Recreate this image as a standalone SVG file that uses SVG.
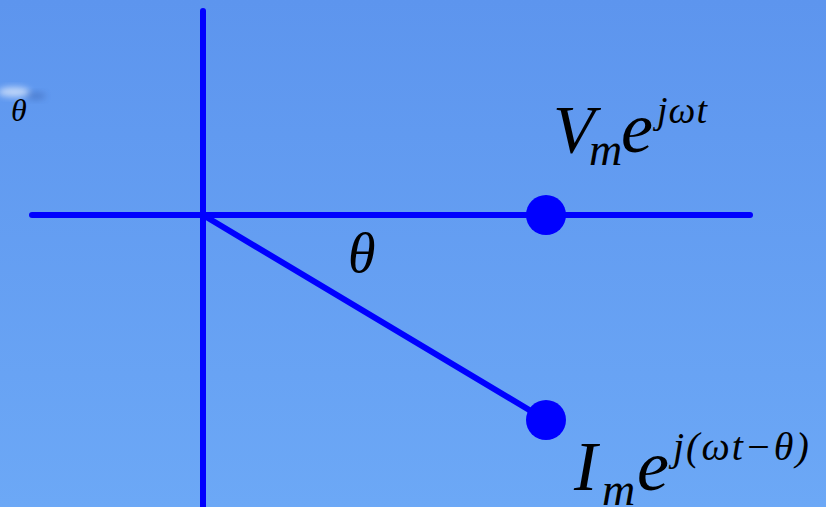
<svg xmlns="http://www.w3.org/2000/svg" width="826" height="507" viewBox="0 0 826 507">
<defs>
<linearGradient id="bg" x1="0" y1="0" x2="0" y2="1">
<stop offset="0" stop-color="#5D95EE"/>
<stop offset="1" stop-color="#6CA8F6"/>
</linearGradient>
<filter id="blur" x="-50%" y="-50%" width="200%" height="200%"><feGaussianBlur stdDeviation="3"/></filter>
</defs>
<style>
.ax{stroke:#0000FF;stroke-width:6;stroke-linecap:round;fill:none}
.dot{fill:#0000FF}
.m{font-family:"Liberation Serif","Times New Roman",serif;font-style:italic;fill:#000}
</style>
<rect width="826" height="507" fill="url(#bg)"/>
<ellipse cx="14" cy="92" rx="16" ry="5" fill="#ffffff" opacity="0.6" filter="url(#blur)"/>
<ellipse cx="36" cy="96" rx="10" ry="4" fill="#2a4a90" opacity="0.3" filter="url(#blur)"/>
<g id="connectors">
<line class="ax" x1="203" y1="11" x2="203" y2="510"/>
<line class="ax" x1="32" y1="215" x2="750" y2="215"/>
<line class="ax" x1="203" y1="215" x2="546" y2="420"/>
</g>
<g id="dotV"><circle class="dot" cx="546" cy="215" r="20"/></g>
<g id="dotI"><circle class="dot" cx="546" cy="420" r="20"/></g>
<g id="labelV">
<text class="m" x="553" y="152" font-size="68">V</text>
<text class="m" x="589" y="165" font-size="46">m</text>
<text class="m" x="621" y="152" font-size="72">e</text>
<text class="m" x="657" y="123" font-size="38" letter-spacing="1">jωt</text>
</g>
<g id="labelI">
<text class="m" x="574" y="490" font-size="70">I</text>
<text class="m" x="602" y="505" font-size="46">m</text>
<text class="m" x="637" y="490" font-size="72">e</text>
<text class="m" x="673" y="460" font-size="40" letter-spacing="2">j(ωt−θ)</text>
</g>
<g id="theta"><text class="m" x="348" y="272" font-size="56">θ</text></g>
<g id="thetaSmall"><text class="m" x="11" y="121" font-size="32">θ</text></g>
</svg>
